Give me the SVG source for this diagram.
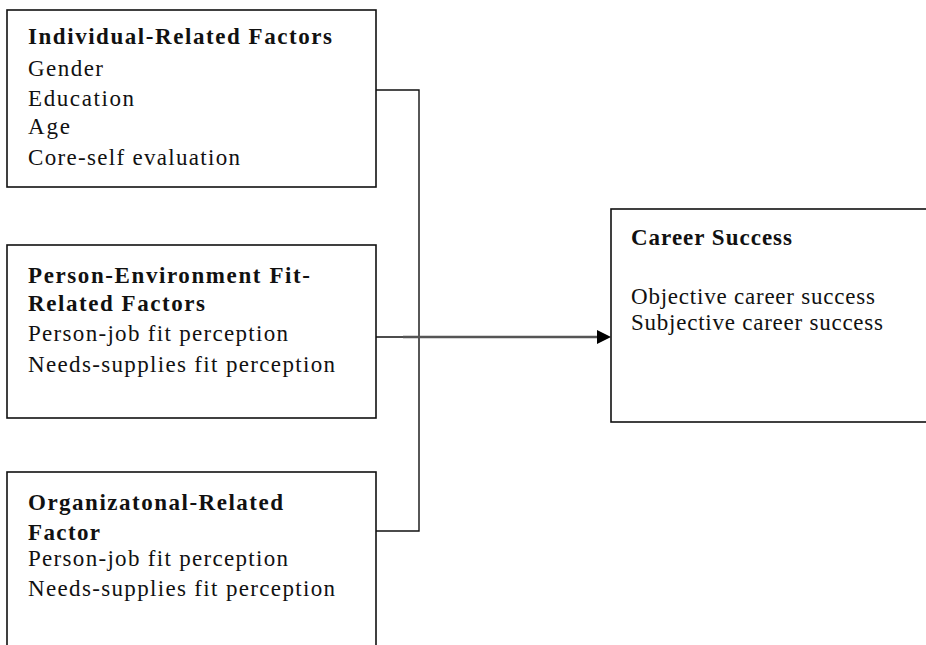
<svg xmlns="http://www.w3.org/2000/svg" width="926" height="645" viewBox="0 0 926 645">
<style>
.box{fill:#fff;stroke:#111;stroke-width:1.6}
.t{font-family:"Liberation Serif","Times New Roman",serif;font-size:23px;fill:#111}
.b{font-weight:bold}
.c{fill:none;stroke:#111;stroke-width:1.4}
</style>
<defs>
<marker id="ah" markerWidth="14" markerHeight="14" refX="0" refY="7" orient="auto" markerUnits="userSpaceOnUse">
<path d="M0,0 L14,7 L0,14 Z" fill="#000"/>
</marker>
</defs>
<rect width="926" height="645" fill="#fff"/>
<g id="connectors">
<path class="c" d="M376,90 H419 V531 H376"/>
<path class="c" d="M376,337 H419"/>
<path d="M403,337 H597" stroke="#555" stroke-width="2.4" fill="none" marker-end="url(#ah)"/>
</g>
<g id="individual">
<rect class="box" x="7" y="10" width="369" height="177"/>
<text class="t b" x="28" y="44" textLength="304" lengthAdjust="spacing">Individual-Related Factors</text>
<text class="t" x="28" y="76" textLength="75" lengthAdjust="spacing">Gender</text>
<text class="t" x="28" y="106" textLength="106" lengthAdjust="spacing">Education</text>
<text class="t" x="28" y="134" textLength="42" lengthAdjust="spacing">Age</text>
<text class="t" x="28" y="165" textLength="212" lengthAdjust="spacing">Core-self evaluation</text>
</g>
<g id="person-environment">
<rect class="box" x="7" y="245" width="369" height="173"/>
<text class="t b" x="28" y="283" textLength="282" lengthAdjust="spacing">Person-Environment Fit-</text>
<text class="t b" x="28" y="311" textLength="177" lengthAdjust="spacing">Related Factors</text>
<text class="t" x="28" y="341" textLength="260" lengthAdjust="spacing">Person-job fit perception</text>
<text class="t" x="28" y="372" textLength="307" lengthAdjust="spacing">Needs-supplies fit perception</text>
</g>
<g id="organizational">
<rect class="box" x="7" y="472" width="369" height="190"/>
<text class="t b" x="28" y="510" textLength="255" lengthAdjust="spacing">Organizatonal-Related</text>
<text class="t b" x="28" y="540" textLength="72" lengthAdjust="spacing">Factor</text>
<text class="t" x="28" y="566" textLength="260" lengthAdjust="spacing">Person-job fit perception</text>
<text class="t" x="28" y="596" textLength="307" lengthAdjust="spacing">Needs-supplies fit perception</text>
</g>
<g id="career-success">
<rect class="box" x="611" y="209" width="330" height="213"/>
<text class="t b" x="631" y="245" textLength="161" lengthAdjust="spacing">Career Success</text>
<text class="t" x="631" y="304" textLength="244" lengthAdjust="spacing">Objective career success</text>
<text class="t" x="631" y="330" textLength="252" lengthAdjust="spacing">Subjective career success</text>
</g>
</svg>
